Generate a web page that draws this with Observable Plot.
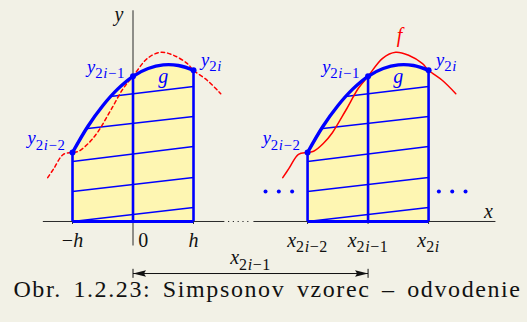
<!DOCTYPE html>
<html>
<head>
<meta charset="utf-8">
<script src="https://cdn.jsdelivr.net/npm/d3@7"></script>
<script src="https://cdn.jsdelivr.net/npm/@observablehq/plot@0.6"></script>
<style>
  html, body { margin: 0; padding: 0; background: #f2f1e6; }
  #wrap { position: relative; width: 527px; height: 322px; overflow: hidden; }
  #chart svg { display: block; }
  #caption { position: absolute; left: 4px; top: 277px; width: 527px; text-align: center;
    font-family: "Liberation Serif", serif; font-size: 24px; line-height: 24px;
    letter-spacing: 1.6px; word-spacing: 4px; color: #111; }
</style>
</head>
<body>
<div id="wrap">
  <div id="chart"></div>
  <div id="caption">Obr. 1.2.23: Simpsonov vzorec – odvodenie</div>
</div>
<script>
// ---- data (x in units of h, y in arbitrary units) ----
const panelX = [0, 3.885];                       // centres of the two panels (0 and x_{2i-1})
const gX = [-1, -0.75, -0.5, -0.25, 0, 0.25, 0.5, 0.75, 1];
const gY = [1.15, 1.58, 1.93, 2.21, 2.42, 2.55, 2.61, 2.60, 2.52];
const fX = [-1.41, -1.31, -1.15, -1.0, -0.9, -0.74, -0.59, -0.37, -0.16, 0, 0.24, 0.455, 0.67, 0.9, 1.0, 1.23, 1.45];
const fY = [0.73, 0.88, 1.12, 1.15, 1.17, 1.30, 1.48, 1.85, 2.22, 2.42, 2.72, 2.82, 2.77, 2.63, 2.52, 2.35, 2.13];
const nodeX = [-1, 0, 1];
const nodeY = [1.15, 2.42, 2.52];
const nodeLabels = ["y_{2i−2}", "y_{2i−1}", "y_{2i}"];
const hatchX1 = [-1, -1, -1, -0.785, -0.372];
const hatchY1 = [0, 0.5, 1.0, 1.545, 2.083];
const hatchY2 = [0.233, 0.733, 1.25, 1.75, 2.25];   // at x = h
const leftTickLabels = ["−h", "0", "h"];
const leftTickX = [-1, 0.17, 1];
const rightTickLabels = ["x_{2i−2}", "x_{2i−1}", "x_{2i}"];
const ellipsisX = [2.19, 2.41, 2.63, 5.055, 5.276, 5.496];
const axisX1 = [-1.49, 1.99];
const axisX2 = [1.51, 5.99];
const gapX = [1.57, 1.93];
const yAxisRange = [-0.4, 3.52];
const arrowY = -0.867;

const D = panelX[1];
const blue = "#0000ff", red = "#ff0000", ink = "#2a2a2a";
const serif = "'Liberation Serif', serif";

const gTable = panelX.flatMap((o, p) => gX.map((x, i) => ({panel: p, x: x + o, y: gY[i]})));
const fTable = panelX.flatMap((o, p) => fX.map((x, i) => ({panel: p, x: x + o, y: fY[i]})));
const nodes = panelX.flatMap((o, p) => nodeX.map((x, i) => ({panel: p, k: i, x: x + o, y: nodeY[i], label: nodeLabels[i]})));
const hatch = panelX.flatMap((o) => hatchX1.map((x, i) => ({x1: x + o, y1: hatchY1[i], x2: 1 + o, y2: hatchY2[i]})));
const baseSeg = panelX.map(o => ({x1: -1 + o, x2: 1 + o}));
const axisSeg = axisX1.map((x, i) => ({x1: x, x2: axisX2[i]}));
const tickTable = [
  ...leftTickLabels.map((t, i) => ({x: leftTickX[i], t})),
  ...rightTickLabels.map((t, i) => ({x: nodeX[i] + D, t}))
];
const smallTicks = [-1, 1, D - 1, D, D + 1];

// custom arrowhead symbols (tip at the anchor point)
const headRight = {draw(ctx) { ctx.moveTo(0, 0); ctx.lineTo(-13, -3.2); ctx.lineTo(-11, 0); ctx.lineTo(-13, 3.2); ctx.closePath(); }};
const headLeft  = {draw(ctx) { ctx.moveTo(0, 0); ctx.lineTo(13, -3.2); ctx.lineTo(11, 0); ctx.lineTo(13, 3.2); ctx.closePath(); }};

const nodeText = (k, dx, dy) => Plot.text(nodes.filter(d => d.k === k), {
  x: "x", y: "y", text: "label", dx, dy, fill: blue, fontSize: 18.5, textAnchor: "middle"
});

const plot = Plot.plot({
  width: 527, height: 282, margin: 0,
  x: {domain: [-2.19, 6.52], axis: null},
  y: {domain: [-1.0167, 3.6833], axis: null},
  style: {background: "transparent", fontFamily: serif},
  marks: [
    Plot.areaY(gTable, {x: "x", y: "y", z: "panel", fill: "#fef6b2", curve: "catmull-rom"}),
    Plot.link(axisSeg, {x1: "x1", x2: "x2", y1: 0, y2: 0, stroke: ink, strokeWidth: 1}),
    Plot.link([{x1: gapX[0], x2: gapX[1]}], {x1: "x1", x2: "x2", y1: 0, y2: 0, stroke: ink, strokeWidth: 1, strokeDasharray: "1.2,3.6"}),
    Plot.link([0], {x1: 0, x2: 0, y1: yAxisRange[0], y2: yAxisRange[1], stroke: ink, strokeWidth: 1}),
    Plot.ruleX(smallTicks, {x: d => d, y1: 0, y2: -0.05, stroke: ink, strokeWidth: 1}),
    Plot.link(hatch, {x1: "x1", y1: "y1", x2: "x2", y2: "y2", stroke: blue, strokeWidth: 1.4}),
    Plot.ruleX(nodes, {x: "x", y1: 0, y2: "y", stroke: blue, strokeWidth: 2.6}),
    Plot.link(baseSeg, {x1: "x1", x2: "x2", y1: 0, y2: 0, stroke: blue, strokeWidth: 3}),
    Plot.line(fTable.filter(d => d.panel === 0), {x: "x", y: "y", stroke: red, strokeWidth: 1.5, strokeDasharray: "3.5,3", curve: "catmull-rom"}),
    Plot.line(fTable.filter(d => d.panel === 1), {x: "x", y: "y", stroke: red, strokeWidth: 1.5, curve: "catmull-rom"}),
    Plot.line(gTable, {x: "x", y: "y", z: "panel", stroke: blue, strokeWidth: 3.4, curve: "catmull-rom"}),
    Plot.dot(nodes, {x: "x", y: "y", r: 3, fill: blue}),
    Plot.dot(ellipsisX, {x: d => d, y: 0.5, r: 2, fill: blue}),
    Plot.link([0], {x1: 0, x2: D, y1: arrowY, y2: arrowY, stroke: "#111", strokeWidth: 1}),
    Plot.ruleX([0, D], {x: d => d, y1: arrowY + 0.07, y2: arrowY - 0.08, stroke: "#111", strokeWidth: 1}),
    Plot.dot([0], {x: 0, y: arrowY, symbol: headLeft, r: 1, fill: "#111", stroke: "none"}),
    Plot.dot([D], {x: D, y: arrowY, symbol: headRight, r: 1, fill: "#111", stroke: "none"}),
    Plot.text([0], {x: D / 2, y: arrowY, text: ["x_{2i−1}"], dy: -16, fontSize: 20, fill: "#111"}),
    Plot.text(tickTable, {x: "x", y: 0, text: "t", dy: 19, fontSize: 20, fill: "#111"}),
    Plot.text([0], {x: 0, y: yAxisRange[1], text: ["y"], dx: -14, dy: 4, fontSize: 20, fill: "#111"}),
    Plot.text([0], {x: axisX2[1], y: 0, text: ["x"], dx: -7, dy: -10, fontSize: 20, fill: "#111"}),
    nodeText(0, -26, -14),
    nodeText(1, -27, -9),
    nodeText(2, 18, -10),
    Plot.text(panelX, {x: d => d + 0.5, y: gY[6], text: ["g", "g"], dy: 12, fontSize: 20, fill: blue}),
    Plot.text([0], {x: 0.455 + D, y: 2.82, text: ["f"], dx: 4, dy: -17, fontSize: 20, fill: red})
  ]
});

function mathify(svg) {
  const NS = "http://www.w3.org/2000/svg";
  svg.querySelectorAll("text").forEach(t => {
    const s = t.textContent;
    const m = s.match(/^(.*?)(?:_\{(.*)\})?$/);
    const base = m[1], sub = m[2];
    while (t.firstChild) t.removeChild(t.firstChild);
    const add = (str, isSub) => {
      const runs = str.match(/[A-Za-z]+|[^A-Za-z]+/g) || [];
      runs.forEach((r, k) => {
        const ts = document.createElementNS(NS, "tspan");
        ts.textContent = r;
        ts.setAttribute("font-style", /[A-Za-z]/.test(r) ? "italic" : "normal");
        if (isSub) {
          ts.setAttribute("font-size", "0.8em");
          ts.setAttribute("letter-spacing", "0.6");
          if (k === 0) ts.setAttribute("dy", "0.35em");
        }
        t.appendChild(ts);
      });
    };
    add(base, false);
    if (sub) add(sub, true);
  });
}
mathify(plot);
document.getElementById("chart").appendChild(plot);
</script>
</body>
</html>
